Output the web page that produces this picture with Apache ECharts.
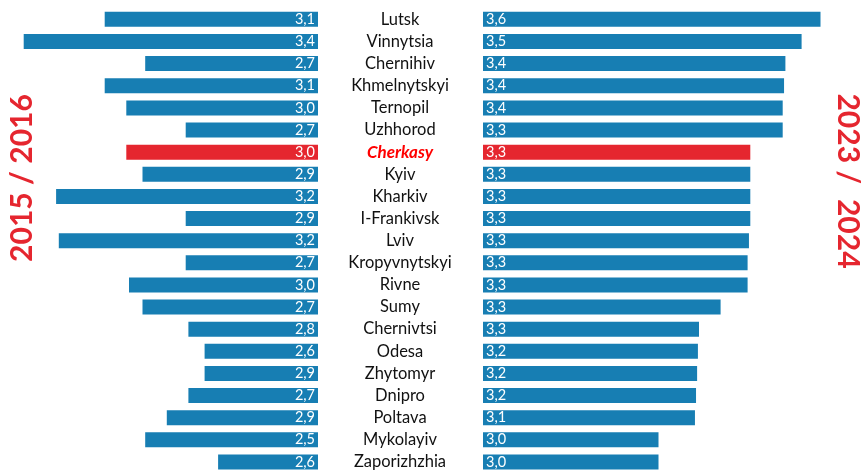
<!DOCTYPE html>
<html><head><meta charset="utf-8">
<script src="https://cdn.jsdelivr.net/npm/echarts@6/dist/echarts.min.js"></script>
<style>html,body{margin:0;padding:0;background:#fff}#c{width:863px;height:473px}</style>
</head><body><div id="c"></div>
<script>
const cities = ['Lutsk','Vinnytsia','Chernihiv','Khmelnytskyi','Ternopil','Uzhhorod','Cherkasy','Kyiv','Kharkiv','I-Frankivsk','Lviv','Kropyvnytskyi','Rivne','Sumy','Chernivtsi','Odesa','Zhytomyr','Dnipro','Poltava','Mykolayiv','Zaporizhzhia'];
// bar lengths as drawn (2015/2016)
const leftValues = [3.14,3.44,2.99,3.14,3.06,2.84,3.06,3.00,3.32,2.84,3.31,2.84,3.05,3.00,2.83,2.77,2.77,2.83,2.91,2.99,2.72];
// value labels as printed (2015/2016)
const leftLabels = ['3,1','3,4','2,7','3,1','3,0','2,7','3,0','2,9','3,2','2,9','3,2','2,7','3,0','2,7','2,8','2,6','2,9','2,7','2,9','2,5','2,6'];
// bar lengths as drawn (2023/2024)
const rightValues = [3.60,3.53,3.47,3.465,3.46,3.46,3.34,3.34,3.34,3.34,3.335,3.33,3.33,3.23,3.15,3.146,3.143,3.139,3.135,3.00,3.00];
// value labels as printed (2023/2024)
const rightLabels = ['3,6','3,5','3,4','3,4','3,4','3,3','3,3','3,3','3,3','3,3','3,3','3,3','3,3','3,3','3,3','3,2','3,2','3,2','3,1','3,0','3,0'];
const highlight = 'Cherkasy';
const leftTitle = '2015 / 2016';
const rightTitle = '2023 /  2024';

const BLUE = '#177EB3', RED = '#E5262F';
const FONT = 'Lato';
const colorFor = (i) => cities[i] === highlight ? RED : BLUE;

const chart = echarts.init(document.getElementById('c'));
chart.setOption({
  animation: false,
  grid: [
    {left: 21, right: 545, top: 8.3, height: 470},
    {left: 483, right: 29, top: 8.3, height: 470}
  ],
  xAxis: [
    {gridIndex: 0, type: 'value', min: 2.35, max: 3.45, inverse: true, show: false},
    {gridIndex: 1, type: 'value', min: 2.35, max: 3.65, show: false}
  ],
  yAxis: [
    {gridIndex: 0, type: 'category', data: cities, inverse: true, show: false},
    {gridIndex: 1, type: 'category', data: cities, inverse: true,
     axisLine: {show: false}, axisTick: {show: false},
     axisLabel: {
       margin: 83, align: 'center', fontFamily: FONT, fontSize: 16.5, color: '#111',
       formatter: (v) => v === highlight ? '{h|' + v + '}' : v,
       rich: {h: {color: '#FF0000', fontStyle: 'italic', fontWeight: 'bold', fontFamily: FONT, fontSize: 17}}
     }}
  ],
  series: [
    {type: 'bar', xAxisIndex: 0, yAxisIndex: 0, barWidth: 15,
     data: leftValues.map((v, i) => ({value: v, itemStyle: {color: colorFor(i)}})),
     label: {show: true, position: 'insideRight', distance: 3, color: '#fff', fontFamily: FONT, fontSize: 14.5,
             formatter: (p) => leftLabels[p.dataIndex]}},
    {type: 'bar', xAxisIndex: 1, yAxisIndex: 1, barWidth: 15,
     data: rightValues.map((v, i) => ({value: v, itemStyle: {color: colorFor(i)}})),
     label: {show: true, position: 'insideLeft', distance: 3, color: '#fff', fontFamily: FONT, fontSize: 14.5,
             formatter: (p) => rightLabels[p.dataIndex]}}
  ],
  graphic: [
    {type: 'text', x: 22, y: 178, rotation: Math.PI / 2,
     style: {text: leftTitle, fill: RED, font: 'bold 30px ' + FONT, align: 'center', verticalAlign: 'middle'}},
    {type: 'text', x: 848, y: 181, rotation: -Math.PI / 2,
     style: {text: rightTitle, fill: RED, font: 'bold 30px ' + FONT, align: 'center', verticalAlign: 'middle'}}
  ]
});
</script></body></html>
